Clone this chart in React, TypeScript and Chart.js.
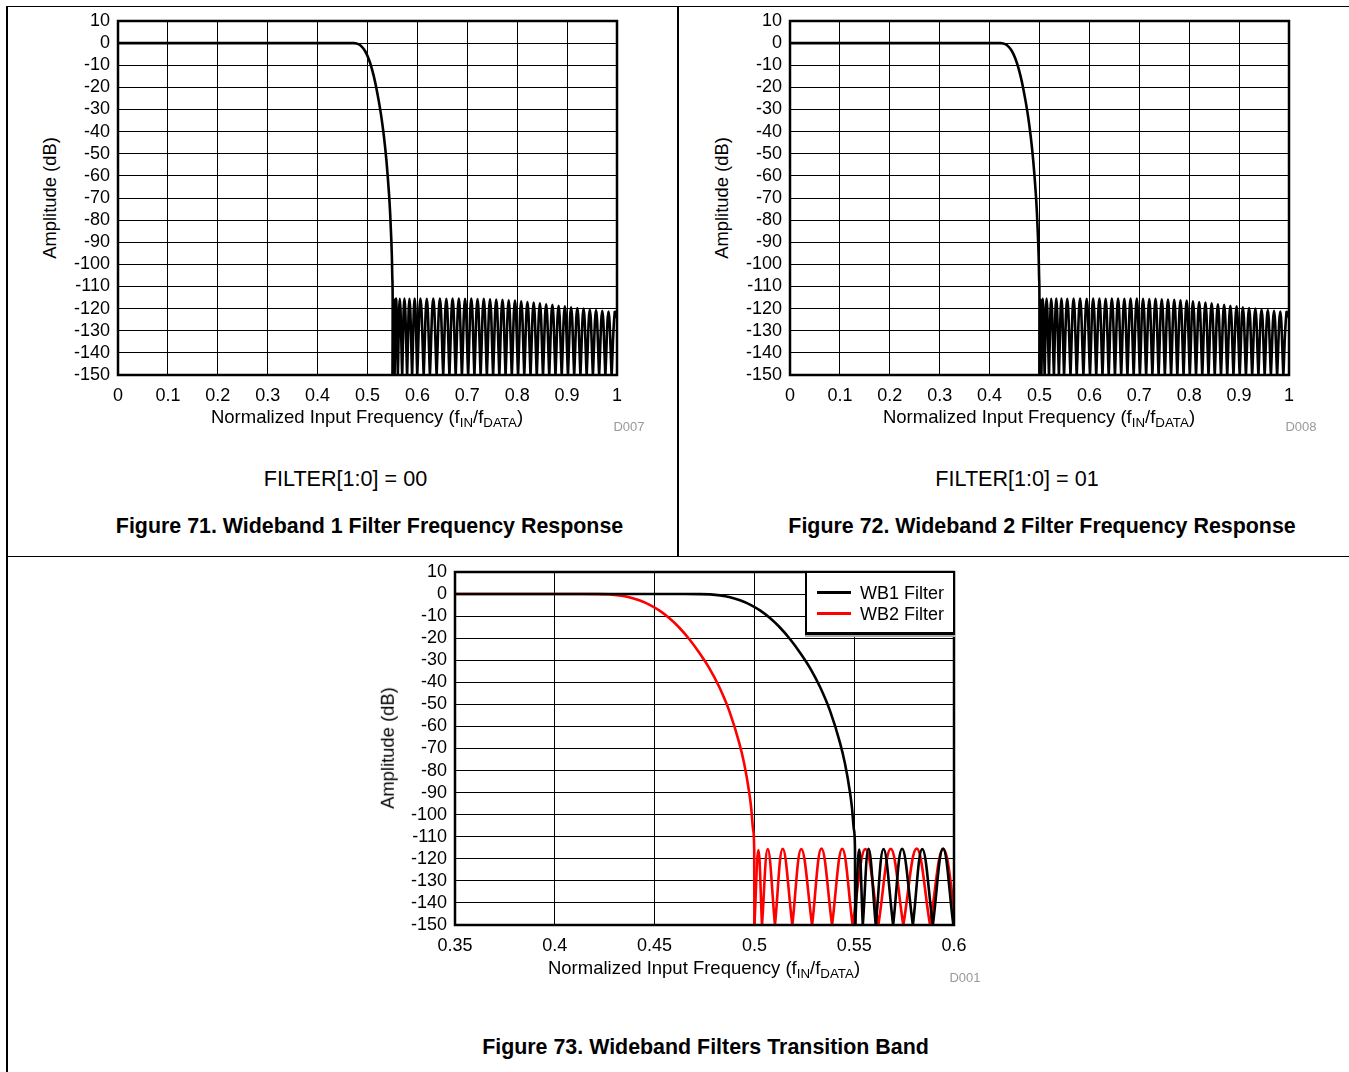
import React, { useEffect, useRef } from "react";
import { Chart, registerables } from "chart.js";

Chart.register(...registerables);

// ---------- axis ticks ----------
const yTickValues = [-150, -140, -130, -120, -110, -100, -90, -80, -70, -60, -50, -40, -30, -20, -10, 0, 10];
const yTickLabels = ["-150", "-140", "-130", "-120", "-110", "-100", "-90", "-80", "-70", "-60", "-50", "-40", "-30", "-20", "-10", "0", "10"];
const xFullValues = [0, 0.1, 0.2, 0.3, 0.4, 0.5, 0.6, 0.7, 0.8, 0.9, 1];
const xFullLabels = ["0", "0.1", "0.2", "0.3", "0.4", "0.5", "0.6", "0.7", "0.8", "0.9", "1"];
const xZoomValues = [0.35, 0.4, 0.45, 0.5, 0.55, 0.6];
const xZoomLabels = ["0.35", "0.4", "0.45", "0.5", "0.55", "0.6"];

// ---------- WB1 filter (FILTER[1:0] = 00) ----------
const wb1PassF = [0, 0.45, 0.465, 0.4727, 0.4778, 0.4828, 0.4878, 0.4928, 0.4978, 0.5028, 0.5078, 0.5128, 0.5178, 0.5228, 0.5279, 0.5329, 0.5379, 0.5429, 0.5454, 0.5479, 0.5489, 0.5499, 0.5504, 0.5505];
const wb1PassDb = [0, 0, -0.005, -0.02, -0.15, -0.6, -1.45, -2.8, -4.75, -7.4, -10.85, -15.15, -20.35, -26.45, -33.55, -42.15, -52.95, -67.45, -76.95, -89.95, -97, -107, -116, -150];
const wb1NullF = [0.5505, 0.5543, 0.5608, 0.5695, 0.5794, 0.5894, 0.5997, 0.6126, 0.6251, 0.6385, 0.6517, 0.6642, 0.6767, 0.6892, 0.7017, 0.7142, 0.7267, 0.7392, 0.7517, 0.7642, 0.7767, 0.7892, 0.8017, 0.8142, 0.8267, 0.8392, 0.8517, 0.8642, 0.8767, 0.8892, 0.9017, 0.9142, 0.9267, 0.9392, 0.9517, 0.9642, 0.9767, 0.9892];
const wb1PeakF = [0.5525, 0.5572, 0.5647, 0.574, 0.5841, 0.5945, 0.6061, 0.6188, 0.6318, 0.6451, 0.658, 0.6705, 0.683, 0.6955, 0.708, 0.7205, 0.733, 0.7455, 0.758, 0.7705, 0.783, 0.7955, 0.808, 0.8205, 0.833, 0.8455, 0.858, 0.8705, 0.883, 0.8955, 0.908, 0.9205, 0.933, 0.9455, 0.958, 0.9705, 0.983, 0.9955];
const wb1PeakDb = [-115.8, -115.5, -115.6, -115.5, -115.6, -115.4, -115.5, -115.6, -115.5, -115.4, -115.6, -115.5, -115.5, -115.6, -115.5, -115.7, -115.6, -115.8, -115.9, -116, -116.2, -116.4, -116.7, -117, -117.3, -117.6, -118, -118.3, -118.7, -119, -119.4, -119.7, -120, -120.4, -120.7, -121, -121.3, -121.6];
const wb1EndF = 1.0;
const wb1EndDb = -124;

// ---------- WB2 filter (FILTER[1:0] = 01) ----------
const wb2PassF = [0, 0.3995, 0.4145, 0.4222, 0.4273, 0.4323, 0.4373, 0.4423, 0.4473, 0.4523, 0.4573, 0.4623, 0.4673, 0.4723, 0.4774, 0.4824, 0.4874, 0.4924, 0.4949, 0.4974, 0.4984, 0.4994, 0.4999, 0.5];
const wb2PassDb = [0, 0, -0.005, -0.02, -0.15, -0.6, -1.45, -2.8, -4.75, -7.4, -10.85, -15.15, -20.35, -26.45, -33.55, -42.15, -52.95, -67.45, -76.95, -89.95, -97, -107, -116, -150];
const wb2NullF = [0.5, 0.5038, 0.5103, 0.519, 0.5289, 0.5389, 0.5492, 0.5621, 0.5746, 0.588, 0.6012, 0.6137, 0.6262, 0.6387, 0.6512, 0.6637, 0.6762, 0.6887, 0.7012, 0.7137, 0.7262, 0.7387, 0.7512, 0.7637, 0.7762, 0.7887, 0.8012, 0.8137, 0.8262, 0.8387, 0.8512, 0.8637, 0.8762, 0.8887, 0.9012, 0.9137, 0.9262, 0.9387, 0.9512, 0.9637, 0.9762, 0.9887];
const wb2PeakF = [0.502, 0.5067, 0.5142, 0.5235, 0.5336, 0.544, 0.5556, 0.5683, 0.5813, 0.5946, 0.6075, 0.62, 0.6325, 0.645, 0.6575, 0.67, 0.6825, 0.695, 0.7075, 0.72, 0.7325, 0.745, 0.7575, 0.77, 0.7825, 0.795, 0.8075, 0.82, 0.8325, 0.845, 0.8575, 0.87, 0.8825, 0.895, 0.9075, 0.92, 0.9325, 0.945, 0.9575, 0.97, 0.9825, 0.995];
const wb2PeakDb = [-116, -115.6, -115.5, -115.6, -115.4, -115.5, -115.6, -115.5, -115.4, -115.6, -115.5, -115.5, -115.6, -115.4, -115.5, -115.6, -115.5, -115.5, -115.6, -115.7, -115.6, -115.8, -115.9, -116, -116.2, -116.4, -116.7, -117, -117.3, -117.6, -118, -118.3, -118.7, -119, -119.4, -119.7, -120, -120.4, -120.7, -121, -121.3, -121.6];
const wb2EndF = 1.0;
const wb2EndDb = -124;

const NULL_DB = -150;
const FONT = "'Liberation Sans', Arial, Helvetica, sans-serif";

type Pt = { x: number; y: number };

function buildPass(f: number[], db: number[]): Pt[] {
  return f.map((x, i) => ({ x, y: db[i] }));
}

function buildStop(nulls: number[], pf: number[], pdb: number[], endF: number, endDb: number): Pt[] {
  const pts: Pt[] = [];
  for (let i = 0; i < nulls.length; i++) {
    // null doubled -> sharp cusp at the notch
    pts.push({ x: nulls[i], y: NULL_DB });
    pts.push({ x: nulls[i], y: NULL_DB });
    pts.push({ x: pf[i], y: pdb[i] });
  }
  pts.push({ x: endF, y: endDb });
  return pts;
}

const framePlugin = {
  id: "frame",
  afterDatasetsDraw(chart: any) {
    const { ctx, chartArea: a } = chart;
    ctx.save();
    ctx.strokeStyle = "#000";
    ctx.lineWidth = 2.5;
    ctx.strokeRect(a.left, a.top, a.right - a.left, a.bottom - a.top);
    ctx.restore();
  },
};

type Series = { pass: Pt[]; stop: Pt[]; color: string };

function FreqChart(props: {
  left: number;
  top: number;
  height: number;
  xMin: number;
  xMax: number;
  xVals: number[];
  xLabels: string[];
  series: Series[];
}) {
  const ref = useRef<HTMLCanvasElement>(null);
  const W = 577;
  useEffect(() => {
    const datasets: any[] = [];
    props.series.forEach((s) => {
      datasets.push({
        data: s.pass,
        borderColor: s.color,
        borderWidth: 2.6,
        pointRadius: 0,
        fill: false,
        cubicInterpolationMode: "monotone",
      });
      datasets.push({
        data: s.stop,
        borderColor: s.color,
        borderWidth: 2.6,
        pointRadius: 0,
        fill: false,
        tension: 0.4,
      });
    });
    const chart = new Chart(ref.current as HTMLCanvasElement, {
      type: "line",
      data: { datasets },
      options: {
        animation: false,
        responsive: false,
        devicePixelRatio: 1,
        events: [],
        layout: { padding: { left: 0, right: 20, top: 12, bottom: 0 } },
        plugins: { legend: { display: false }, tooltip: { enabled: false } },
        scales: {
          x: {
            type: "linear",
            min: props.xMin,
            max: props.xMax,
            afterBuildTicks: (axis: any) => {
              axis.ticks = props.xVals.map((v) => ({ value: v }));
            },
            afterFit: (axis: any) => {
              axis.height = 34;
              axis.paddingLeft = 0;
              axis.paddingRight = 0;
              axis.paddingTop = 0;
              axis.paddingBottom = 0;
            },
            ticks: {
              autoSkip: false,
              maxRotation: 0,
              padding: 10,
              color: "#000",
              font: { family: FONT, size: 18 },
              callback: (_v: any, i: number) => props.xLabels[i],
            },
            grid: { color: "#000", lineWidth: 1, drawTicks: false },
            border: { display: false },
          },
          y: {
            type: "linear",
            min: -150,
            max: 10,
            afterBuildTicks: (axis: any) => {
              axis.ticks = yTickValues.map((v) => ({ value: v }));
            },
            afterFit: (axis: any) => {
              axis.width = 58;
              axis.paddingLeft = 0;
              axis.paddingRight = 0;
              axis.paddingTop = 0;
              axis.paddingBottom = 0;
            },
            ticks: {
              autoSkip: false,
              padding: 8,
              color: "#000",
              font: { family: FONT, size: 18 },
              callback: (_v: any, i: number) => yTickLabels[i],
            },
            grid: { color: "#000", lineWidth: 1, drawTicks: false },
            border: { display: false },
          },
        },
      } as any,
      plugins: [framePlugin],
    });
    return () => chart.destroy();
  }, []);
  return (
    <canvas
      ref={ref}
      width={W}
      height={props.height}
      style={{ position: "absolute", left: props.left, top: props.top, width: W, height: props.height }}
    />
  );
}

function T(props: { x: number; y: number; size: number; bold?: boolean; color?: string; rotate?: boolean; children: any }) {
  return (
    <div
      style={{
        position: "absolute",
        left: props.x,
        top: props.y,
        transform: `translate(-50%, -50%)${props.rotate ? " rotate(-90deg)" : ""}`,
        whiteSpace: "nowrap",
        fontFamily: FONT,
        fontSize: props.size,
        fontWeight: props.bold ? "bold" : "normal",
        color: props.color || "#000",
        lineHeight: 1,
      }}
    >
      {props.children}
    </div>
  );
}

const Sub = (p: { children: any }) => (
  <span style={{ fontSize: "0.72em", position: "relative", top: "0.3em" }}>{p.children}</span>
);

const XTitle = () => (
  <>
    Normalized Input Frequency (f<Sub>IN</Sub>/f<Sub>DATA</Sub>)
  </>
);

const Line = (p: { left: number; top: number; width: number; height: number }) => (
  <div style={{ position: "absolute", left: p.left, top: p.top, width: p.width, height: p.height, background: "#000" }} />
);

export default function App() {
  const wb1: Series = {
    pass: buildPass(wb1PassF, wb1PassDb),
    stop: buildStop(wb1NullF, wb1PeakF, wb1PeakDb, wb1EndF, wb1EndDb),
    color: "#000000",
  };
  const wb2: Series = {
    pass: buildPass(wb2PassF, wb2PassDb),
    stop: buildStop(wb2NullF, wb2PeakF, wb2PeakDb, wb2EndF, wb2EndDb),
    color: "#000000",
  };
  const wb2Red: Series = { ...wb2, color: "#ff0000" };

  return (
    <div style={{ position: "absolute", left: 0, top: 0, width: 1349, height: 1072, background: "#fff", overflow: "hidden" }}>
      {/* frame lines */}
      <Line left={6} top={5.5} width={1343} height={1.5} />
      <Line left={6} top={5.5} width={1.5} height={1067} />
      <Line left={677} top={5.5} width={1.5} height={551} />
      <Line left={6} top={555.5} width={1343} height={1.5} />

      {/* Figure 71 */}
      <FreqChart left={60} top={9} height={400} xMin={0} xMax={1} xVals={xFullValues} xLabels={xFullLabels} series={[wb1]} />
      <T x={50} y={198} size={18.4} rotate>Amplitude (dB)</T>
      <T x={367} y={417} size={18.5}><XTitle /></T>
      <T x={629} y={426} size={13} color="#999">D007</T>
      <T x={345.5} y={479} size={21.6}>FILTER[1:0] = 00</T>
      <T x={369.5} y={527} size={21.4} bold>Figure 71. Wideband 1 Filter Frequency Response</T>

      {/* Figure 72 */}
      <FreqChart left={732} top={9} height={400} xMin={0} xMax={1} xVals={xFullValues} xLabels={xFullLabels} series={[wb2]} />
      <T x={722} y={198} size={18.4} rotate>Amplitude (dB)</T>
      <T x={1039} y={417} size={18.5}><XTitle /></T>
      <T x={1301} y={426} size={13} color="#999">D008</T>
      <T x={1017} y={479} size={21.6}>FILTER[1:0] = 01</T>
      <T x={1042} y={527} size={21.4} bold>Figure 72. Wideband 2 Filter Frequency Response</T>

      {/* Figure 73 */}
      <FreqChart left={397} top={560} height={399} xMin={0.35} xMax={0.6} xVals={xZoomValues} xLabels={xZoomLabels} series={[wb1, wb2Red]} />
      <div
        style={{
          position: "absolute",
          left: 805,
          top: 571,
          width: 150,
          height: 64,
          boxSizing: "border-box",
          background: "#fff",
          border: "2px solid #000",
          borderBottomWidth: 3,
          boxShadow: "0 2px 0 #aaa",
        }}
      >
        <div style={{ position: "absolute", left: 10, top: 18, width: 34, height: 2.5, background: "#000" }} />
        <div style={{ position: "absolute", left: 10, top: 39, width: 34, height: 2.5, background: "#ff0000" }} />
        <div style={{ position: "absolute", left: 53, top: 10, fontFamily: FONT, fontSize: 18, lineHeight: "20px", whiteSpace: "nowrap" }}>WB1 Filter</div>
        <div style={{ position: "absolute", left: 53, top: 31, fontFamily: FONT, fontSize: 18, lineHeight: "20px", whiteSpace: "nowrap" }}>WB2 Filter</div>
      </div>
      <T x={388} y={748} size={18.4} rotate>Amplitude (dB)</T>
      <T x={704} y={968} size={18.5}><XTitle /></T>
      <T x={965} y={977} size={13} color="#999">D001</T>
      <T x={705.5} y={1048} size={21.4} bold>Figure 73. Wideband Filters Transition Band</T>
    </div>
  );
}
